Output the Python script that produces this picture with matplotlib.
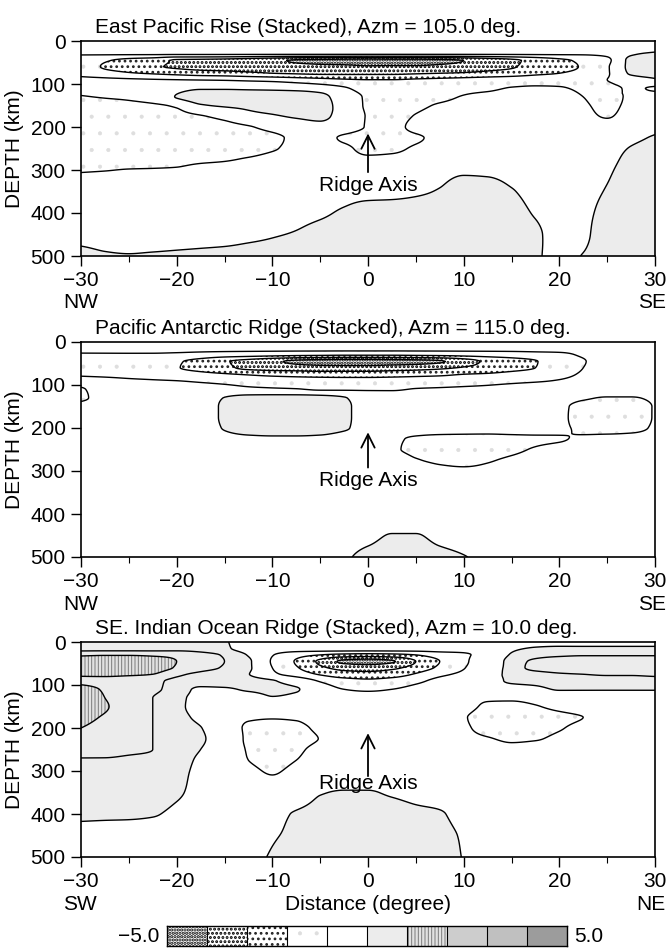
import numpy as np
import matplotlib
matplotlib.use("Agg")
import matplotlib.pyplot as plt

plt.rcParams['font.family'] = ['Liberation Sans', 'DejaVu Sans']
plt.rcParams['font.size'] = 15

# ---------------- data ----------------
x_deg = [-30, -27.5, -25, -22.5, -20, -17.5, -15, -12.5, -10, -7.5, -5, -2.5, 0,
         2.5, 5, 7.5, 10, 12.5, 15, 17.5, 20, 22.5, 25, 27.5, 30]
depth_km = [0, 15, 30, 45, 60, 75, 90, 110, 130, 150, 175, 200, 225, 250, 275,
            300, 350, 400, 450, 500]

# East Pacific Rise
epr_rows = [
    [-0.5]*25,
    [-0.6]*23 + [-0.5, -0.4],
    [-0.9]*22 + [-0.8, -0.1, 0.15],
    [-1.6, -1.9, -2.3, -2.6, -3.1, -3.2, -3.3, -3.5, -3.8, -4.1, -4.2, -4.3, -4.4, -4.3, -4.3, -4.2, -4.0, -3.6, -3.2, -2.7, -2.2, -1.8, -1.2, 0.2, 0.4],
    [-1.5, -2.1, -2.5, -2.9, -3.1, -3.3, -3.4, -3.5, -3.6, -3.7, -3.8, -3.8, -3.9, -3.9, -3.9, -3.8, -3.7, -3.4, -3.1, -2.6, -2.3, -1.9, -1.1, 0.2, 0.4],
    [-1.3, -1.6, -1.9, -2.1, -2.3, -2.5, -2.6, -2.8, -3.0, -3.1, -3.2, -3.2, -3.2, -3.2, -3.1, -3.0, -2.9, -2.7, -2.5, -2.2, -2.0, -1.7, -1.1, 0.1, 0.3],
    [-0.8, -0.85, -0.9, -0.95, -1.0, -1.05, -1.1, -1.2, -1.3, -1.5, -1.7, -1.9, -2.0, -2.0, -1.9, -1.8, -1.7, -1.6, -1.5, -1.4, -1.3, -1.2, -1.0, -0.4, -0.1],
    [-0.8, -0.7, -0.6, -0.4, -0.3, -0.1, -0.1, -0.15, -0.2, -0.3, -0.5, -0.9, -1.3, -1.4, -1.3, -1.2, -1.2, -1.15, -0.95, -0.9, -0.95, -1.1, -1.2, -0.9, -1.1],
    [-1.05, -0.95, -0.85, -0.6, 0.05, 0.5, 0.5, 0.5, 0.5, 0.5, 0.3, -0.6, -1.1, -1.4, -1.4, -1.2, -0.95, -0.8, -0.7, -0.7, -0.8, -1.0, -1.3, -0.85, -0.7],
    [-1.35, -1.3, -1.2, -1.1, -0.9, -0.1, 0.1, 0.2, 0.35, 0.45, 0.4, -0.5, -1.1, -1.4, -1.2, -0.9, -0.7, -0.6, -0.6, -0.6, -0.7, -0.9, -1.2, -0.8, -0.6],
    [-1.4, -1.4, -1.35, -1.3, -1.2, -1.05, -0.8, -0.3, -0.1, 0.1, 0.2, -0.45, -1.05, -1.3, -0.95, -0.7, -0.6, -0.6, -0.6, -0.6, -0.65, -0.8, -1.05, -0.7, -0.6],
    [-1.4, -1.4, -1.4, -1.35, -1.3, -1.25, -1.2, -1.05, -0.8, -0.5, -0.3, -0.6, -1.05, -1.2, -0.8, -0.6, -0.6, -0.6, -0.6, -0.6, -0.6, -0.65, -0.7, -0.5, -0.3],
    [-1.4, -1.4, -1.4, -1.4, -1.35, -1.3, -1.3, -1.2, -1.1, -0.9, -0.8, -1.1, -1.3, -1.3, -1.1, -0.8, -0.6, -0.6, -0.6, -0.6, -0.55, -0.5, -0.4, -0.2, 0.1],
    [-1.4, -1.4, -1.4, -1.35, -1.3, -1.3, -1.25, -1.2, -1.05, -0.85, -0.7, -0.85, -1.2, -1.15, -0.9, -0.7, -0.6, -0.6, -0.6, -0.55, -0.5, -0.45, -0.3, 0.05, 0.3],
    [-1.3, -1.3, -1.25, -1.2, -1.15, -1.1, -1.05, -0.95, -0.8, -0.7, -0.6, -0.7, -0.85, -0.8, -0.7, -0.6, -0.55, -0.55, -0.55, -0.5, -0.45, -0.35, -0.2, 0.2, 0.4],
    [-1.05, -1.02, -0.98, -0.97, -0.95, -0.85, -0.8, -0.72, -0.65, -0.6, -0.55, -0.5, -0.5, -0.45, -0.4, -0.3, -0.15, -0.2, -0.35, -0.45, -0.4, -0.3, -0.1, 0.3, 0.5],
    [-0.7, -0.7, -0.7, -0.7, -0.65, -0.6, -0.55, -0.5, -0.5, -0.45, -0.4, -0.3, -0.25, -0.2, -0.1, 0.05, 0.3, 0.3, 0.05, -0.2, -0.3, -0.2, 0.05, 0.4, 0.5],
    [-0.6, -0.6, -0.55, -0.55, -0.5, -0.45, -0.4, -0.35, -0.3, -0.2, -0.1, 0.1, 0.3, 0.3, 0.3, 0.3, 0.35, 0.35, 0.2, -0.05, -0.3, -0.15, 0.2, 0.4, 0.5],
    [-0.3, -0.35, -0.4, -0.4, -0.35, -0.3, -0.25, -0.15, -0.05, 0.05, 0.2, 0.3, 0.35, 0.35, 0.35, 0.35, 0.35, 0.35, 0.3, 0.1, -0.2, -0.1, 0.3, 0.4, 0.5],
    [0.3, 0.1, 0.05, 0.1, 0.15, 0.2, 0.25, 0.3, 0.3, 0.35, 0.35, 0.35, 0.35, 0.35, 0.35, 0.35, 0.3, 0.3, 0.2, 0.05, -0.1, 0.02, 0.3, 0.4, 0.5],
]

# Pacific Antarctic Ridge
par_rows = [
    [-0.5]*25,
    [-0.7]*22 + [-0.6, -0.55, -0.5],
    [-1.1, -1.1, -1.1, -1.12, -1.2, -1.35, -1.5, -1.6, -1.7, -1.8, -1.85, -1.9, -1.9, -1.9, -1.85, -1.8, -1.7, -1.6, -1.5, -1.35, -1.2, -0.9, -0.7, -0.6, -0.6],
    [-1.3, -1.35, -1.4, -1.6, -1.9, -2.3, -2.9, -3.3, -3.8, -4.2, -4.4, -4.5, -4.5, -4.4, -4.3, -4.1, -3.5, -2.8, -2.4, -2.05, -1.5, -1.05, -0.7, -0.6, -0.55],
    [-1.3, -1.35, -1.4, -1.6, -1.95, -2.3, -2.8, -3.2, -3.4, -3.5, -3.6, -3.6, -3.6, -3.5, -3.4, -3.2, -2.9, -2.6, -2.3, -2.0, -1.5, -1.0, -0.7, -0.6, -0.55],
    [-1.1, -1.15, -1.2, -1.3, -1.5, -1.7, -1.9, -2.1, -2.3, -2.4, -2.5, -2.5, -2.5, -2.4, -2.3, -2.2, -2.0, -1.9, -1.7, -1.5, -1.25, -0.9, -0.65, -0.55, -0.5],
    [-0.8, -0.85, -0.9, -0.95, -1.0, -1.1, -1.2, -1.3, -1.4, -1.5, -1.55, -1.6, -1.6, -1.6, -1.55, -1.5, -1.4, -1.3, -1.2, -1.1, -0.95, -0.75, -0.6, -0.55, -0.5],
    [-1.05, -0.8, -0.6, -0.6, -0.65, -0.7, -0.75, -0.85, -0.9, -0.95, -1.1, -1.1, -1.1, -1.1, -0.95, -0.9, -0.85, -0.8, -0.7, -0.6, -0.55, -0.55, -0.55, -0.55, -0.5],
    [-1.1, -0.8, -0.6, -0.55, -0.5, -0.3, 0.02, 0.3, 0.35, 0.35, 0.3, 0.05, -0.4, -0.5, -0.5, -0.5, -0.5, -0.5, -0.55, -0.6, -0.7, -0.9, -1.05, -1.05, -0.85],
    [-0.8, -0.7, -0.6, -0.55, -0.5, -0.3, 0.1, 0.4, 0.45, 0.45, 0.4, 0.15, -0.35, -0.5, -0.5, -0.5, -0.5, -0.5, -0.55, -0.65, -0.85, -1.2, -1.3, -1.3, -0.95],
    [-0.7, -0.6, -0.55, -0.5, -0.5, -0.3, 0.1, 0.4, 0.45, 0.45, 0.4, 0.15, -0.35, -0.5, -0.5, -0.5, -0.5, -0.5, -0.55, -0.65, -0.85, -1.25, -1.35, -1.3, -0.95],
    [-0.6, -0.55, -0.5, -0.5, -0.5, -0.35, 0.05, 0.35, 0.4, 0.4, 0.35, 0.1, -0.35, -0.5, -0.55, -0.6, -0.65, -0.65, -0.65, -0.7, -0.85, -1.15, -1.25, -1.2, -0.9],
    [-0.6, -0.55, -0.5, -0.5, -0.5, -0.45, -0.3, -0.2, -0.15, -0.15, -0.2, -0.4, -0.6, -0.85, -1.1, -1.2, -1.2, -1.2, -1.15, -1.1, -1.05, -0.9, -0.8, -0.75, -0.7],
    [-0.6, -0.55, -0.5, -0.5, -0.5, -0.5, -0.5, -0.5, -0.5, -0.5, -0.5, -0.55, -0.7, -0.9, -1.15, -1.25, -1.25, -1.2, -1.1, -0.95, -0.8, -0.7, -0.6, -0.6, -0.6],
    [-0.6, -0.55, -0.5, -0.5, -0.5, -0.5, -0.5, -0.5, -0.5, -0.5, -0.5, -0.5, -0.55, -0.6, -0.95, -1.1, -1.15, -1.05, -0.9, -0.75, -0.65, -0.6, -0.6, -0.6, -0.6],
    [-0.6, -0.55, -0.5, -0.5, -0.5, -0.5, -0.5, -0.5, -0.5, -0.5, -0.5, -0.5, -0.5, -0.55, -0.65, -0.85, -0.9, -0.85, -0.7, -0.6, -0.6, -0.6, -0.6, -0.6, -0.6],
    [-0.6]*25,
    [-0.55]*25,
    [-0.5, -0.5, -0.5, -0.5, -0.5, -0.5, -0.5, -0.5, -0.5, -0.5, -0.5, -0.4, -0.25, 0.05, 0.05, -0.25, -0.4, -0.5, -0.5, -0.5, -0.5, -0.5, -0.5, -0.5, -0.5],
    [-0.5, -0.5, -0.5, -0.5, -0.5, -0.5, -0.5, -0.5, -0.5, -0.5, -0.4, -0.15, 0.3, 0.45, 0.45, 0.3, 0.05, -0.25, -0.4, -0.5, -0.5, -0.5, -0.5, -0.5, -0.5],
]

# SE. Indian Ocean Ridge
seir_rows = [
    [0.3, 0.3, 0.3, 0.3, 0.3, 0.25, 0.05, -0.3, -0.5, -0.5, -0.5, -0.5, -0.5, -0.5, -0.5, -0.5, -0.5, -0.5, -0.4, -0.2, -0.2, -0.2, -0.2, -0.2, -0.2],
    [0.35, 0.35, 0.35, 0.35, 0.35, 0.3, 0.1, -0.3, -0.5, -0.55, -0.55, -0.55, -0.55, -0.55, -0.55, -0.55, -0.55, -0.4, -0.1, 0.05, 0.1, 0.1, 0.1, 0.1, 0.1],
    [0.9, 0.95, 0.95, 0.9, 0.85, 0.65, 0.45, -0.05, -0.95, -1.6, -2.0, -2.3, -2.4, -2.3, -2.0, -1.5, -1.15, -0.6, 0.05, 0.3, 0.4, 0.45, 0.45, 0.45, 0.45],
    [1.4, 1.5, 1.5, 1.3, 1.0, 0.7, 0.5, 0.1, -1.1, -2.1, -3.2, -4.2, -4.4, -4.1, -3.0, -2.0, -1.15, -0.5, 0.2, 0.6, 0.75, 0.8, 0.8, 0.8, 0.8],
    [1.4, 1.45, 1.4, 1.25, 0.95, 0.65, 0.45, 0.1, -1.0, -1.9, -2.8, -3.3, -3.4, -3.2, -2.6, -1.8, -1.05, -0.4, 0.2, 0.65, 0.75, 0.8, 0.8, 0.8, 0.8],
    [1.1, 1.15, 1.1, 1.0, 0.6, 0.4, 0.3, 0.02, -0.8, -1.4, -2.1, -2.6, -2.7, -2.5, -1.9, -1.2, -0.8, -0.2, 0.1, 0.3, 0.45, 0.5, 0.55, 0.55, 0.6],
    [0.85, 0.8, 0.7, 0.6, 0.4, 0.3, 0.3, 0.25, 0.05, -0.4, -1.1, -1.6, -1.8, -1.6, -1.2, -0.8, -0.6, -0.3, 0.1, 0.2, 0.3, 0.3, 0.3, 0.3, 0.3],
    [1.2, 0.95, 0.8, 0.6, 0.3, -0.1, -0.1, 0.1, 0.15, 0.05, -0.6, -1.0, -1.15, -1.0, -0.8, -0.7, -0.6, -0.5, -0.4, -0.2, 0.05, 0.05, 0.05, 0.05, 0.05],
    [1.25, 1.0, 0.75, 0.5, 0.15, -0.2, -0.45, -0.4, -0.05, -0.2, -0.55, -0.6, -0.6, -0.6, -0.6, -0.7, -0.85, -0.9, -0.85, -0.7, -0.5, -0.5, -0.5, -0.5, -0.5],
    [1.3, 1.05, 0.75, 0.5, 0.15, -0.25, -0.5, -0.55, -0.55, -0.5, -0.5, -0.5, -0.5, -0.5, -0.55, -0.6, -0.8, -1.1, -1.2, -1.05, -0.8, -0.6, -0.5, -0.5, -0.5],
    [1.15, 0.95, 0.75, 0.5, 0.2, -0.15, -0.5, -0.9, -0.95, -0.9, -0.6, -0.5, -0.5, -0.5, -0.55, -0.7, -0.95, -1.25, -1.3, -1.25, -1.15, -1.0, -0.7, -0.55, -0.5],
    [1.0, 0.85, 0.7, 0.5, 0.25, 0.02, -0.5, -1.1, -1.2, -1.15, -0.85, -0.6, -0.5, -0.5, -0.55, -0.7, -0.9, -1.2, -1.3, -1.2, -1.05, -0.8, -0.6, -0.5, -0.5],
    [0.85, 0.75, 0.65, 0.5, 0.3, 0.08, -0.4, -1.1, -1.25, -1.2, -0.98, -0.7, -0.55, -0.5, -0.55, -0.65, -0.8, -0.95, -1.1, -1.05, -0.85, -0.65, -0.55, -0.5, -0.5],
    [0.75, 0.7, 0.6, 0.5, 0.25, 0.0, -0.4, -1.05, -1.2, -1.1, -0.8, -0.6, -0.5, -0.5, -0.5, -0.55, -0.6, -0.7, -0.8, -0.7, -0.6, -0.55, -0.5, -0.5, -0.5],
    [0.45, 0.45, 0.4, 0.35, 0.2, -0.1, -0.45, -1.0, -1.15, -1.0, -0.7, -0.55, -0.5, -0.5, -0.5, -0.5, -0.5, -0.5, -0.5, -0.5, -0.5, -0.5, -0.5, -0.5, -0.5],
    [0.35, 0.35, 0.3, 0.25, 0.15, -0.15, -0.4, -0.85, -1.05, -0.85, -0.6, -0.5, -0.5, -0.5, -0.5, -0.5, -0.5, -0.5, -0.5, -0.5, -0.5, -0.5, -0.5, -0.5, -0.5],
    [0.3, 0.3, 0.28, 0.25, 0.08, -0.2, -0.45, -0.6, -0.7, -0.55, -0.05, 0.05, 0.05, -0.1, -0.25, -0.35, -0.45, -0.5, -0.5, -0.5, -0.5, -0.5, -0.5, -0.5, -0.5],
    [0.15, 0.12, 0.1, 0.05, -0.15, -0.35, -0.5, -0.4, -0.15, 0.05, 0.25, 0.35, 0.35, 0.3, 0.15, 0.05, -0.2, -0.4, -0.5, -0.5, -0.5, -0.5, -0.5, -0.5, -0.5],
    [-0.3, -0.3, -0.3, -0.35, -0.4, -0.45, -0.5, -0.3, -0.05, 0.1, 0.3, 0.4, 0.4, 0.35, 0.25, 0.12, -0.05, -0.3, -0.5, -0.5, -0.5, -0.5, -0.5, -0.5, -0.5],
    [-0.35, -0.35, -0.35, -0.4, -0.45, -0.5, -0.5, -0.2, 0.05, 0.2, 0.35, 0.4, 0.4, 0.35, 0.3, 0.15, -0.02, -0.3, -0.5, -0.5, -0.5, -0.5, -0.5, -0.5, -0.5],
]

titles = ["East Pacific Rise (Stacked), Azm = 105.0 deg.",
          "Pacific Antarctic Ridge (Stacked), Azm = 115.0 deg.",
          "SE. Indian Ocean Ridge (Stacked), Azm = 10.0 deg."]
end_labels = [("NW", "SE"), ("NW", "SE"), ("SW", "NE")]
arrow_head_km = [215, 210, 212]
arrow_tail_km = [305, 292, 312]
label_km = [337, 322, 328]

fill_levels = [-5, -4, -3, -2, -1, 0, 1, 2, 3, 4, 5]
line_levels = [-4, -3, -2, -1, 0, 0.5, 1, 2, 3, 4]
x_ticks = [-30, -20, -10, 0, 10, 20, 30]
y_ticks = [0, 100, 200, 300, 400, 500]

# ---------------- styles ----------------
bin_face = ['white', 'white', 'white', 'white', 'white',
            '#ececec', '#e2e2e2', '#cdcdcd', '#c0c0c0', '#9c9c9c']
bin_hatch = ['.....', '....', '...', '.', None,
             None, '|||||', None, None, None]
bin_hcolor = ['black', 'black', '#222222', '#dedede', 'black',
              'black', '#7a7a7a', 'black', 'black', 'black']
bin_hlw = [1.6, 1.4, 1.2, 0.5, 0.5, 0.5, 0.7, 0.5, 0.5, 0.5]


def pchip(t, y, tn):
    t = np.asarray(t, float)
    y = np.asarray(y, float)
    tn = np.asarray(tn, float)
    n = len(t)
    h = np.diff(t)
    delta = np.diff(y, axis=0) / h[:, None]
    d = np.zeros_like(y)
    for k in range(1, n - 1):
        d1, d2 = delta[k - 1], delta[k]
        w1 = 2 * h[k] + h[k - 1]
        w2 = h[k] + 2 * h[k - 1]
        same = (d1 * d2) > 0
        with np.errstate(divide='ignore', invalid='ignore'):
            hm = (w1 + w2) / (w1 / d1 + w2 / d2)
        d[k] = np.where(same, hm, 0.0)
    d[0] = delta[0]
    d[-1] = delta[-1]
    idx = np.clip(np.searchsorted(t, tn, side='right') - 1, 0, n - 2)
    hh = h[idx][:, None]
    s = ((tn - t[idx]) / h[idx])[:, None]
    h00 = 2 * s**3 - 3 * s**2 + 1
    h10 = s**3 - 2 * s**2 + s
    h01 = -2 * s**3 + 3 * s**2
    h11 = s**3 - s**2
    return h00 * y[idx] + h10 * hh * d[idx] + h01 * y[idx + 1] + h11 * hh * d[idx + 1]


xf = np.linspace(-30, 30, 361)
df = np.linspace(0, 500, 301)


def fine_field(rows):
    Z = np.array(rows, float)
    assert Z.shape == (len(depth_km), len(x_deg))
    Zd = pchip(depth_km, Z, df)
    Zf = pchip(x_deg, Zd.T, xf).T
    return Zf


W, H = 667, 948
fig = plt.figure(figsize=(W / 100, H / 100), dpi=100)

ax_left, ax_right = 81, 655
aw = ax_right - ax_left
panel_tb = [(41, 256), (342, 557), (642, 857)]
fields = [epr_rows, par_rows, seir_rows]

for p in range(3):
    top, bot = panel_tb[p]
    ph = bot - top
    ax = fig.add_axes([ax_left / W, 1 - bot / H, aw / W, ph / H])
    Z = fine_field(fields[p])
    for b in range(len(fill_levels) - 1):
        lo, hi = fill_levels[b], fill_levels[b + 1]
        if not np.any((Z >= lo) & (Z < hi)):
            continue
        with plt.rc_context({'hatch.color': bin_hcolor[b], 'hatch.linewidth': bin_hlw[b]}):
            ax.contourf(xf, df, Z, levels=[lo, hi], colors=[bin_face[b]],
                        hatches=[bin_hatch[b]], antialiased=True)
    lv = [l for l in line_levels if Z.min() < l < Z.max()]
    ax.contour(xf, df, Z, levels=lv, colors='black', linewidths=1.0,
               linestyles='solid', negative_linestyles='solid')

    ax.set_xlim(-30, 30)
    ax.set_ylim(500, 0)
    ax.set_xticks(x_ticks)
    ax.set_xticks(np.arange(-30, 31, 5), minor=True)
    ax.set_yticks(y_ticks)
    ax.tick_params(axis='both', which='major', direction='out', length=7, width=1.0,
                   labelsize=15, pad=4)
    ax.tick_params(axis='x', which='minor', direction='out', length=4, width=0.8)
    for sp in ax.spines.values():
        sp.set_linewidth(1.2)
    ax.set_ylabel("DEPTH (km)", fontsize=15)
    ax.yaxis.set_label_coords((24 - ax_left) / aw, 0.5)

    ax.text(0.024, 1 + 8 / ph, titles[p], transform=ax.transAxes, ha='left',
            va='baseline', fontsize=15)
    ax.text((63 - ax_left) / aw, -47 / ph, end_labels[p][0], transform=ax.transAxes,
            ha='left', va='center', fontsize=15)
    ax.text((666 - ax_left) / aw, -47 / ph, end_labels[p][1], transform=ax.transAxes,
            ha='right', va='center', fontsize=15)
    ax.annotate("", xy=(0, arrow_head_km[p]), xytext=(0, arrow_tail_km[p]),
                arrowprops=dict(arrowstyle='->', lw=1.3, color='black',
                                mutation_scale=24, shrinkA=0, shrinkB=0))
    ax.text(0, label_km[p], "Ridge Axis", ha='center', va='center', fontsize=15)
    if p == 2:
        ax.text(0.5, -47 / ph, "Distance (degree)", transform=ax.transAxes,
                ha='center', va='center', fontsize=15)

# colour scale
cb = fig.add_axes([167 / W, 1 - 946 / H, 400 / W, 20 / H])
for b in range(len(fill_levels) - 1):
    with plt.rc_context({'hatch.color': bin_hcolor[b], 'hatch.linewidth': bin_hlw[b]}):
        cb.bar(fill_levels[b], 1, width=fill_levels[b + 1] - fill_levels[b], align='edge',
               color=bin_face[b], hatch=bin_hatch[b], edgecolor=bin_hcolor[b], linewidth=0)
    cb.axvline(fill_levels[b], color='black', lw=0.8)
cb.set_xlim(fill_levels[0], fill_levels[-1])
cb.set_ylim(0, 1)
cb.set_xticks([])
cb.set_yticks([])
for sp in cb.spines.values():
    sp.set_linewidth(1.0)
cb.text(fill_levels[0] - 0.18, 0.5, "\u22125.0", ha='right', va='center', fontsize=15)
cb.text(fill_levels[-1] + 0.18, 0.5, "5.0", ha='left', va='center', fontsize=15)

fig.savefig("out.png", dpi=100)
